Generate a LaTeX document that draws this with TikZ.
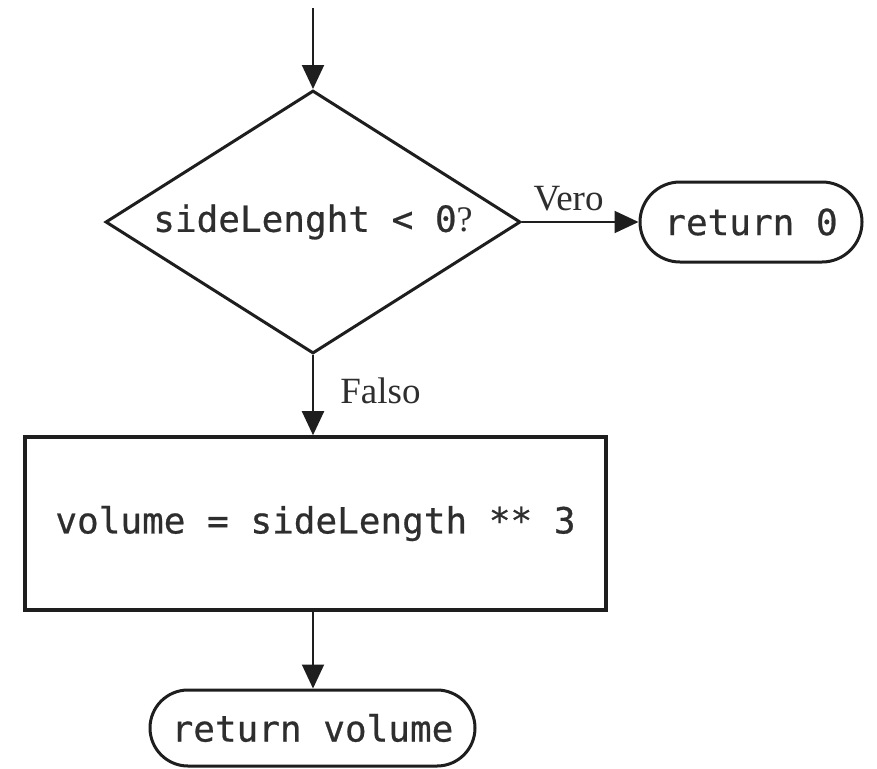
\documentclass[tikz,border=0pt]{standalone}
\usepackage{fontspec}
\setmainfont{Liberation Serif}
\setmonofont[FakeBold=0.6]{DejaVu Sans Mono}
\usetikzlibrary{shapes.geometric,shapes.misc,arrows.meta}
\definecolor{ink}{HTML}{1E1E1E}
\definecolor{txt}{HTML}{2E2E2E}
\tikzset{
  codetext/.style={font=\ttfamily\fontsize{36}{40}\selectfont, text=txt},
  lbl/.style={font=\fontsize{37}{40}\selectfont, text=txt},
  decision/.style={diamond, draw=ink, line width=3pt, inner sep=0pt, shape aspect=1.58,
    minimum width=415pt, minimum height=263pt, codetext},
  process/.style={rectangle, draw=ink, line width=3.6pt, inner sep=0pt,
    minimum width=581pt, minimum height=173pt, codetext},
  terminal/.style={rounded rectangle, draw=ink, line width=3pt, inner sep=0pt, codetext},
  flow/.style={draw=ink, line width=2pt, -{Triangle[length=24pt,width=22pt]}},
}
\begin{document}
\begin{tikzpicture}[x=1pt,y=-1pt]
\useasboundingbox[fill=white] (0,0) rectangle (877,768);
\coordinate (start) at (313,8);
\node[decision] (dec) at (313,222) {sideLenght < 0{\rmfamily ?}};
\node[terminal, minimum width=222pt, minimum height=80pt] (ret0) at (751,222) {return 0};
\node[process] (calc) at (315.5,523.5) {volume = sideLength ** 3};
\node[terminal, minimum width=325pt, minimum height=76pt] (retv) at (312.5,728) {return volume};
\draw[flow] (start) -- (dec.north);
\draw[flow] (dec.east) -- (ret0.west) node[lbl, pos=0.4, above=7pt] (vero) {Vero};
\draw[flow] (dec.south) -- (dec.south |- calc.north) node[lbl, pos=0.45, right=23pt] (falso) {Falso};
\draw[flow] (dec.south |- calc.south) -- (dec.south |- retv.north);
\end{tikzpicture}
\end{document}
